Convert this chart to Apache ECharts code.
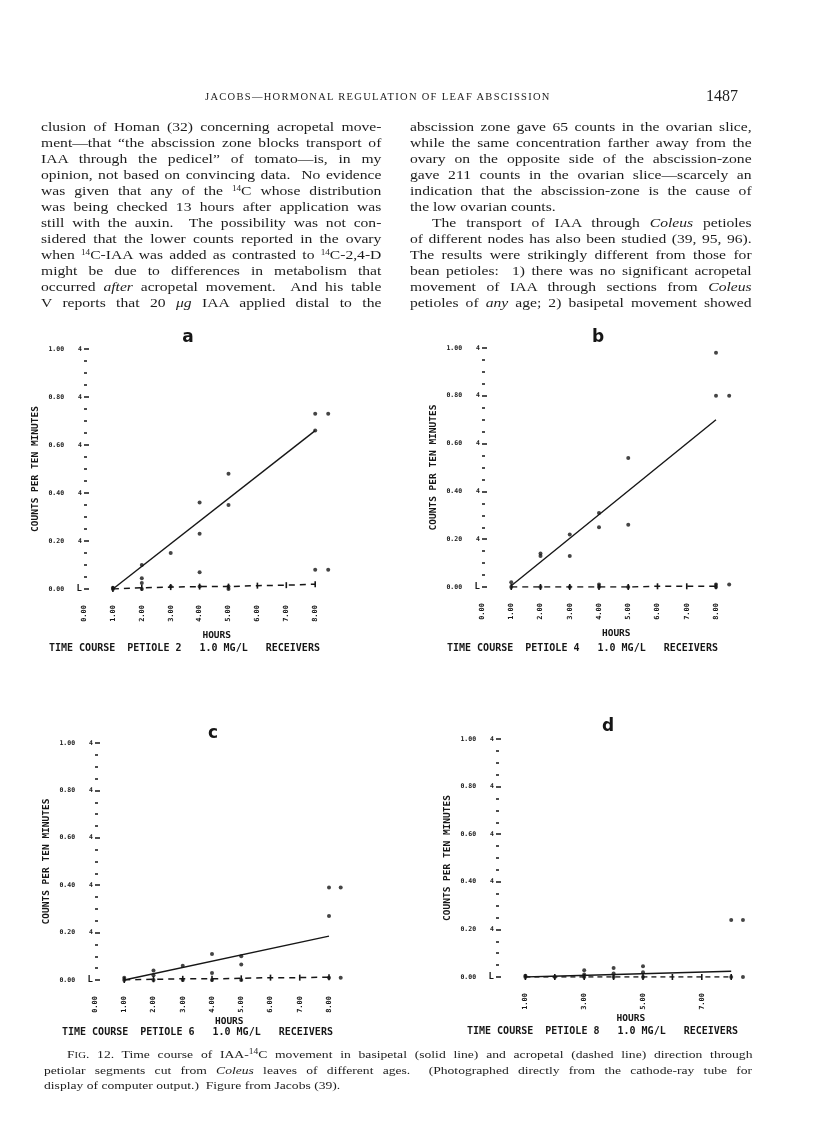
<!DOCTYPE html>
<html>
<head>
<meta charset="utf-8">
<script src="https://cdn.jsdelivr.net/npm/echarts@6/dist/echarts.min.js"></script>
<style>
  html, body { margin: 0; padding: 0; background: #fff; }
  #page { position: relative; width: 816px; height: 1143px; overflow: hidden; }
  #chart { position: absolute; left: 0; top: 0; width: 816px; height: 1143px; }
  .ln {
    position: absolute; white-space: nowrap; height: 16px; line-height: 16px;
    font-family: "Liberation Serif", "DejaVu Serif", serif; font-size: 12.8px; color: #1c1c1c;
    text-align: justify; text-align-last: justify;
    transform: scaleX(1.22); transform-origin: 0 50%;
  }
  .ln.end { text-align-last: left; }
  .cap { font-size: 10.8px; height: 15px; line-height: 15px; transform: scaleX(1.26); }
  .sup { font-size: 7.5px; vertical-align: 4px; line-height: 0; }
  .sc { font-size: 8.5px; }
  .head {
    position: absolute; white-space: nowrap; font-family: "Liberation Serif", serif;
    color: #1c1c1c;
  }
</style>
</head>
<body>
<div id="page">
  <div id="chart"></div>

  <div class="head" style="left:205px; top:91px; font-size:10.5px; letter-spacing:1.3px;">JACOBS—HORMONAL REGULATION OF LEAF ABSCISSION</div>
  <div class="head" style="left:706px; top:87px; font-size:16px;">1487</div>

  <!-- left column: width 340px on the page = 279px before the scaleX -->
  <div class="ln" style="left:41px; top:119px; width:279px;">clusion of Homan (32) concerning acropetal move-</div>
  <div class="ln" style="left:41px; top:135px; width:279px;">ment—that “the abscission zone blocks transport of</div>
  <div class="ln" style="left:41px; top:151px; width:279px;">IAA through the pedicel” of tomato—is, in my</div>
  <div class="ln" style="left:41px; top:167px; width:279px;">opinion, not based on convincing data.&nbsp; No evidence</div>
  <div class="ln" style="left:41px; top:183px; width:279px;">was given that any of the <span class="sup">14</span>C whose distribution</div>
  <div class="ln" style="left:41px; top:199px; width:279px;">was being checked 13 hours after application was</div>
  <div class="ln" style="left:41px; top:215px; width:279px;">still with the auxin.&nbsp; The possibility was not con-</div>
  <div class="ln" style="left:41px; top:231px; width:279px;">sidered that the lower counts reported in the ovary</div>
  <div class="ln" style="left:41px; top:247px; width:279px;">when <span class="sup">14</span>C-IAA was added as contrasted to <span class="sup">14</span>C-2,4-D</div>
  <div class="ln" style="left:41px; top:263px; width:279px;">might be due to differences in metabolism that</div>
  <div class="ln" style="left:41px; top:279px; width:279px;">occurred <i>after</i> acropetal movement.&nbsp; And his table</div>
  <div class="ln" style="left:41px; top:295px; width:279px;">V reports that 20 <i>μg</i> IAA applied distal to the</div>

  <!-- right column -->
  <div class="ln" style="left:410px; top:119px; width:280px;">abscission zone gave 65 counts in the ovarian slice,</div>
  <div class="ln" style="left:410px; top:135px; width:280px;">while the same concentration farther away from the</div>
  <div class="ln" style="left:410px; top:151px; width:280px;">ovary on the opposite side of the abscission-zone</div>
  <div class="ln" style="left:410px; top:167px; width:280px;">gave 211 counts in the ovarian slice—scarcely an</div>
  <div class="ln" style="left:410px; top:183px; width:280px;">indication that the abscission-zone is the cause of</div>
  <div class="ln end" style="left:410px; top:199px; width:280px;">the low ovarian counts.</div>
  <div class="ln" style="left:432px; top:215px; width:262px;">The transport of IAA through <i>Coleus</i> petioles</div>
  <div class="ln" style="left:410px; top:231px; width:280px;">of different nodes has also been studied (39, 95, 96).</div>
  <div class="ln" style="left:410px; top:247px; width:280px;">The results were strikingly different from those for</div>
  <div class="ln" style="left:410px; top:263px; width:280px;">bean petioles:&nbsp; 1) there was no significant acropetal</div>
  <div class="ln" style="left:410px; top:279px; width:280px;">movement of IAA through sections from <i>Coleus</i></div>
  <div class="ln" style="left:410px; top:295px; width:280px;">petioles of <i>any</i> age; 2) basipetal movement showed</div>

  <!-- caption -->
  <div class="ln cap" style="left:67px; top:1047px; width:544px;">F<span class="sc">IG</span>. 12. Time course of IAA-<span class="sup">14</span>C movement in basipetal (solid line) and acropetal (dashed line) direction through</div>
  <div class="ln cap" style="left:44px; top:1063px; width:562px;">petiolar segments cut from <i>Coleus</i> leaves of different ages.&nbsp; (Photographed directly from the cathode-ray tube for</div>
  <div class="ln cap end" style="left:44px; top:1078px; width:562px;">display of computer output.)&nbsp; Figure from Jacobs (39).</div>
</div>

<script>
// hours at which the acropetal (dashed) line is plotted
const hours = [1, 2, 3, 4, 5, 6, 7, 8];
const panelLetters = ['a', 'b', 'c', 'd'];
const petioles = [2, 4, 6, 8];

// panel a - petiole 2
const fitA = [[1, 0.0], [8, 0.66]];
const dashA = [0, 0.005, 0.008, 0.01, 0.01, 0.014, 0.016, 0.02];
const dotsA = [[1, 0], [1, 0.005], [2, 0.10], [2, 0.045], [2, 0.025], [2, 0], [3, 0.15], [3, 0.01],
  [4, 0.36], [4, 0.23], [4, 0.07], [4, 0.01], [5, 0.48], [5, 0.35], [5, 0.01], [5, 0],
  [8, 0.73], [8, 0.66], [8, 0.08], [8.45, 0.73], [8.45, 0.08]];

// panel b - petiole 4
const fitB = [[1, 0.005], [8, 0.70]];
const dashB = [0, 0, 0, 0, 0, 0.003, 0.003, 0.003];
const dotsB = [[1, 0.02], [1, 0], [2, 0.13], [2, 0.14], [2, 0], [3, 0.22], [3, 0.13], [3, 0],
  [4, 0.31], [4, 0.25], [4, 0.01], [4, 0], [5, 0.54], [5, 0.26], [5, 0],
  [8, 0.98], [8, 0.80], [8, 0.01], [8, 0], [8.45, 0.80], [8.45, 0.01]];

// panel c - petiole 6
const fitC = [[1, 0], [8, 0.185]];
const dashC = [0, 0.003, 0.005, 0.005, 0.007, 0.01, 0.01, 0.012];
const dotsC = [[1, 0], [1, 0.01], [2, 0.04], [2, 0.02], [2, 0], [3, 0.06], [3, 0],
  [4, 0.11], [4, 0.03], [4, 0], [5, 0.10], [5, 0.065], [5, 0],
  [8, 0.39], [8, 0.27], [8, 0.01], [8.4, 0.39], [8.4, 0.01]];

// panel d - petiole 8
const fitD = [[1, 0], [8, 0.024]];
const dashD = [0, 0, 0, 0, 0, 0, 0, 0];
const dotsD = [[1, 0], [1, 0.005], [2, 0], [3, 0.028], [3, 0.01], [3, 0], [4, 0.038], [4, 0.015], [4, 0],
  [5, 0.045], [5, 0.02], [5, 0], [8, 0.24], [8, 0], [8.4, 0.24], [8.4, 0]];

const INK = '#161616';
const MONO = '"DejaVu Sans Mono", "Liberation Mono", monospace';

// where each panel sits on the page
const panels = [
  { fit: fitA, dash: dashA, dots: dotsA, left: 84, top: 349, height: 240, perHour: 28.9,
    letter: [188, 338], foot: [49, 648], hoursGap: 42, dashType: [6, 5], oddOnly: false },
  { fit: fitB, dash: dashB, dots: dotsB, left: 482, top: 348, height: 239, perHour: 29.25,
    letter: [598, 338], foot: [447, 648], hoursGap: 42, dashType: [6, 5], oddOnly: false },
  { fit: fitC, dash: dashC, dots: dotsC, left: 95, top: 743, height: 237, perHour: 29.25,
    letter: [213, 734], foot: [62, 1032], hoursGap: 37, dashType: [6, 5], oddOnly: false },
  { fit: fitD, dash: dashD, dots: dotsD, left: 496, top: 739, height: 238, perHour: 29.4,
    letter: [608, 727], foot: [467, 1031], hoursGap: 37, dashType: [5, 4], oddOnly: true }
];
const XMAX = 8.7;

const chart = echarts.init(document.getElementById('chart'), null, { renderer: 'canvas' });

const grid = [], xAxis = [], yAxis = [], series = [], graphic = [];
panels.forEach(function (p, i) {
  grid.push({ left: p.left, top: p.top, width: p.perHour * XMAX, height: p.height });
  xAxis.push({
    gridIndex: i, type: 'value', min: 0, max: XMAX, interval: 1,
    axisLine: { show: false }, axisTick: { show: false }, splitLine: { show: false },
    axisLabel: {
      rotate: 90, margin: 16, fontFamily: MONO, fontSize: 7, fontWeight: 'bold', color: INK,
      formatter: function (v) {
        if (Math.abs(v - Math.round(v)) > 1e-6) return '';
        if (p.oddOnly && Math.round(v) % 2 === 0) return '';
        return v.toFixed(2);
      }
    },
    name: 'HOURS', nameLocation: 'middle', nameGap: p.hoursGap,
    nameTextStyle: { fontFamily: MONO, fontSize: 9.5, fontWeight: 'bold', color: INK, padding: [0, 0, 0, 14] }
  });
  yAxis.push({
    gridIndex: i, type: 'value', min: 0, max: 1, interval: 0.2,
    axisLine: { show: false }, splitLine: { show: false },
    axisTick: { show: true, inside: true, length: 5, lineStyle: { color: INK, width: 1.5 } },
    minorTick: { show: true, splitNumber: 4, length: 3, lineStyle: { color: INK, width: 1.5 } },
    axisLabel: {
      margin: 2, color: INK,
      // the CRT plotted a "4" beside each major tick and an "L" at the origin
      formatter: function (v) {
        return v === 0 ? '{v|0.00}{l|L}' : '{v|' + v.toFixed(2) + '}{m|4}';
      },
      rich: {
        v: { fontFamily: MONO, fontSize: 6.5, fontWeight: 'bold', color: INK },
        m: { fontFamily: MONO, fontSize: 6.5, fontWeight: 'bold', color: INK, padding: [0, 0, 0, 14] },
        l: { fontFamily: MONO, fontSize: 9, fontWeight: 'bold', color: INK, padding: [0, 0, 0, 12.5] }
      }
    },
    name: 'COUNTS PER TEN MINUTES', nameLocation: 'middle', nameRotate: 90, nameGap: 43,
    nameTextStyle: { fontFamily: MONO, fontSize: 9.5, fontWeight: 'bold', color: INK }
  });

  // basipetal fitted line (solid)
  series.push({
    type: 'line', xAxisIndex: i, yAxisIndex: i, data: p.fit, showSymbol: false, silent: true,
    lineStyle: { color: INK, width: 1.4 }
  });
  // acropetal line (dashed)
  series.push({
    type: 'line', xAxisIndex: i, yAxisIndex: i,
    data: hours.map(function (h, k) { return [h, p.dash[k]]; }),
    symbol: 'rect', symbolSize: [1.6, 6], showSymbol: true, silent: true,
    itemStyle: { color: INK },
    lineStyle: { color: INK, width: 1.5, type: p.dashType }
  });
  // individual counts
  series.push({
    type: 'scatter', xAxisIndex: i, yAxisIndex: i, data: p.dots, clip: false,
    symbol: 'circle', symbolSize: 4, itemStyle: { color: INK }
  });

  graphic.push({
    type: 'text', x: p.letter[0], y: p.letter[1],
    style: { text: panelLetters[i], font: 'bold 17px "DejaVu Sans", sans-serif', fill: INK,
      align: 'center', verticalAlign: 'middle', textAlign: 'center', textVerticalAlign: 'middle' }
  });
  graphic.push({
    type: 'text', x: p.foot[0], y: p.foot[1],
    style: { text: 'TIME COURSE  PETIOLE ' + petioles[i] + '   1.0 MG/L   RECEIVERS',
      font: 'bold 10px ' + MONO, fill: INK,
      align: 'left', verticalAlign: 'middle', textAlign: 'left', textVerticalAlign: 'middle' }
  });
});

chart.setOption({
  animation: false,
  backgroundColor: 'transparent',
  grid: grid,
  xAxis: xAxis,
  yAxis: yAxis,
  series: series,
  graphic: graphic
});
</script>
</body>
</html>
